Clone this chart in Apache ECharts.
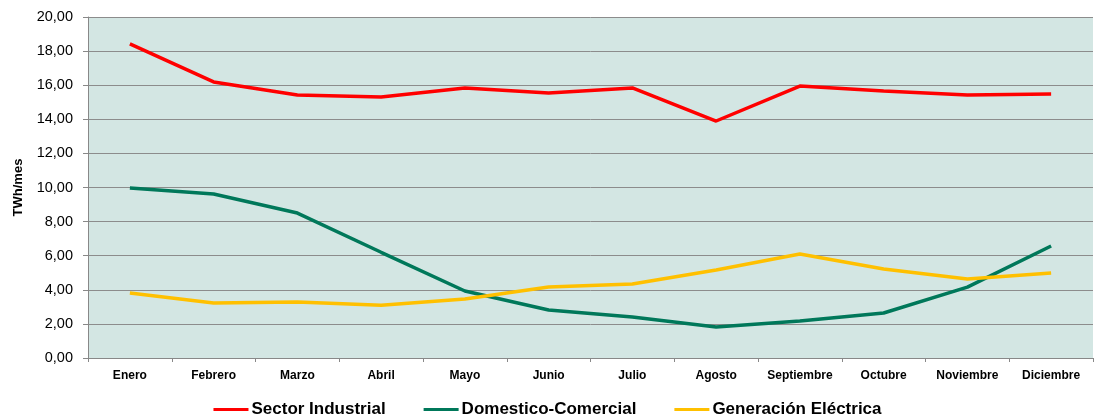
<!DOCTYPE html>
<html><head><meta charset="utf-8">
<script src="https://cdn.jsdelivr.net/npm/echarts@6/dist/echarts.min.js"></script>
<style>html,body{margin:0;padding:0;background:#fff}#c{width:1095px;height:418px}</style>
</head><body><div id="c"></div>
<script>
const categories = ['Enero','Febrero','Marzo','Abril','Mayo','Junio','Julio','Agosto','Septiembre','Octubre','Noviembre','Diciembre'];
const industrial = [18.42,16.19,15.43,15.31,15.84,15.54,15.84,13.90,15.95,15.66,15.43,15.48];
const domestico = [9.97,9.62,8.50,6.20,3.93,2.82,2.40,1.82,2.17,2.64,4.16,6.57];
const generacion = [3.81,3.23,3.28,3.10,3.46,4.16,4.34,5.16,6.10,5.22,4.63,4.98];
const seriesNames = ['Sector Industrial','Domestico-Comercial','Generación Eléctrica'];
const colors = ['#ff0000','#00785a','#ffc000'];
const chart = echarts.init(document.getElementById('c'));
const mk = (name, data, color) => ({
  name, type: 'line', data, symbol: 'none', smooth: false,
  lineStyle: {color, width: 3.5}, itemStyle: {color}
});
chart.setOption({
  animation: false,
  textStyle: {fontFamily: 'Liberation Sans'},
  grid: {left: 88, right: 2, top: 17, bottom: 60, backgroundColor: '#d3e6e3', show: true, borderWidth: 0},
  legend: {
    top: 396, left: 'center', itemWidth: 35, itemHeight: 3, itemGap: 38,
    icon: 'rect',
    textStyle: {fontSize: 17, fontWeight: 'bold', color: '#000', fontFamily: 'Liberation Sans', padding: [0, 0, 0, -2]},
    data: seriesNames
  },
  xAxis: {
    type: 'category', data: categories, boundaryGap: true,
    axisLine: {lineStyle: {color: '#888'}},
    axisTick: {show: true, alignWithLabel: false, length: 4, lineStyle: {color: '#888'}},
    axisLabel: {color: '#000', fontWeight: 'bold', fontSize: 12, margin: 12, interval: 0}
  },
  yAxis: {
    type: 'value', min: 0, max: 20, interval: 2,
    name: 'TWh/mes', nameLocation: 'middle', nameGap: 63,
    nameTextStyle: {fontWeight: 'bold', fontSize: 13, color: '#000'},
    axisLine: {show: true, lineStyle: {color: '#888'}},
    axisTick: {show: true, length: 5, lineStyle: {color: '#888'}},
    splitLine: {lineStyle: {color: '#8c8c8c', width: 1}},
    axisLabel: {color: '#000', fontSize: 14.5, margin: 15, formatter: v => v.toFixed(2).replace('.', ',')}
  },
  series: [
    mk(seriesNames[0], industrial, colors[0]),
    mk(seriesNames[1], domestico, colors[1]),
    mk(seriesNames[2], generacion, colors[2])
  ]
});
</script></body></html>
